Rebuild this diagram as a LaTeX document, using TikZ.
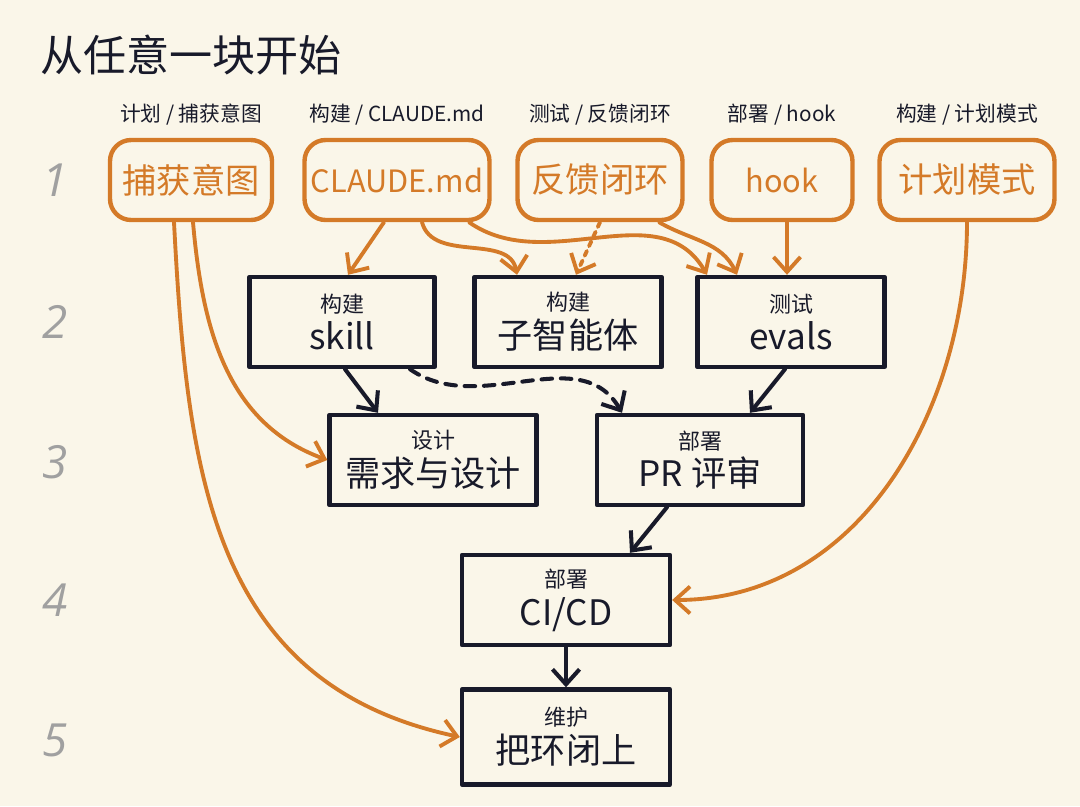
\documentclass[tikz,border=0pt]{standalone}
\usepackage{fontspec}
\setmainfont{Noto Sans CJK SC}
\newfontfamily\numfont{Open Sans}
\usetikzlibrary{positioning,arrows.meta}

\definecolor{ink}{RGB}{24,26,42}
\definecolor{clay}{RGB}{212,122,40}
\definecolor{paper}{RGB}{250,246,233}
\definecolor{pencil}{RGB}{160,160,160}

\begin{document}
\begin{tikzpicture}[x=0.02cm,y=0.02cm,
                    >={Straight Barb[length=3mm,width=5.4mm]},
                    line cap=round,
                    line join=round,
                    start node/.style={draw=clay,text=clay,line width=2.5pt,rounded corners=12pt,
                                       minimum height=1.6cm,inner sep=2pt,
                                       font=\fontsize{19.5}{22}\selectfont},
                    latin/.style={font=\fontsize{17.5}{20}\selectfont},
                    step node/.style={draw=ink,text=ink,line width=2.5pt,inner sep=2pt,
                                      minimum height=1.8cm,align=center,
                                      font=\fontsize{20}{21.5}\selectfont},
                    tag/.style={text=ink,font=\fontsize{11.8}{13}\selectfont},
                    row num/.style={text=pencil,font=\numfont\itshape\fontsize{26}{28}\selectfont},
                    clay arrow/.style={draw=clay,line width=2.2pt,->},
                    ink arrow/.style={draw=ink,line width=2.3pt,->}]

  \useasboundingbox[fill=paper] (0,0) rectangle (1080,-806);

  \node[anchor=west,text=ink,font=\fontsize{24.5}{28}\selectfont] (title) at (34,-55) {从任意一块开始};

  % row numbers
  \node[row num] (r1) at (55,-180) {1};
  \node[row num] (r2) at (55,-322) {2};
  \node[row num] (r3) at (55,-462) {3};
  \node[row num] (r4) at (55,-600) {4};
  \node[row num] (r5) at (55,-740) {5};

  % where you can start
  \node[start node,minimum width=3.24cm]       (cap)    at (191,-180) {捕获意图};
  \node[start node,latin,minimum width=3.7cm]  (claude) at (397,-180) {CLAUDE.md};
  \node[start node,minimum width=3.3cm]        (loopfb) at (600,-180) {反馈闭环};
  \node[start node,latin,minimum width=2.82cm] (hook)   at (782,-180) {hook};
  \node[start node,minimum width=3.5cm]        (plan)   at (967,-180) {计划模式};

  \node[tag,above=0.12cm of cap]    {计划 / 捕获意图};
  \node[tag,above=0.12cm of claude] {构建 / CLAUDE.md};
  \node[tag,above=0.12cm of loopfb] {测试 / 反馈闭环};
  \node[tag,above=0.12cm of hook]   {部署 / hook};
  \node[tag,above=0.12cm of plan]   {构建 / 计划模式};

  % steps
  \node[step node,minimum width=3.7cm]  (skill)  at (342,-322) {{\fontsize{12.5}{14}\selectfont 构建}\\skill};
  \node[step node,minimum width=3.74cm] (sub)    at (568,-322) {{\fontsize{12.5}{14}\selectfont 构建}\\子智能体};
  \node[step node,minimum width=3.74cm] (evals)  at (791,-322) {{\fontsize{12.5}{14}\selectfont 测试}\\evals};
  \node[step node,minimum width=4.14cm] (design) at (433,-460) {{\fontsize{12.5}{14}\selectfont 设计}\\需求与设计};
  \node[step node,minimum width=4.12cm] (pr)     at (700,-460) {{\fontsize{12.5}{14}\selectfont 部署}\\PR 评审};
  \node[step node,minimum width=4.16cm] (cicd)   at (566,-600) {{\fontsize{12.5}{14}\selectfont 部署}\\CI/CD};
  \node[step node,minimum width=4.16cm,minimum height=1.9cm] (close) at (566,-737) {{\fontsize{12.5}{14}\selectfont 维护}\\把环闭上};

  \path[every edge/.style={clay arrow}]
    ([xshift=-0.34cm]cap.south)    edge[out=-87,in=168,looseness=1.1] (close.west)
    ([xshift=0.04cm]cap.south)     edge[out=-85,in=160] (design.west)
    ([xshift=-0.26cm]claude.south) edge ([xshift=0.12cm]skill.north)
    ([xshift=0.5cm]claude.south)   edge[out=-75,in=100] ([xshift=-1.02cm]sub.north)
    ([xshift=1.44cm]claude.south)  edge[out=-35,in=120] ([xshift=-1.68cm]evals.north)
    ([xshift=1.18cm]loopfb.south)  edge[out=-30,in=115] ([xshift=-1.08cm]evals.north)
    ([xshift=0.1cm]hook.south)     edge ([xshift=-0.08cm]evals.north)
    (plan.south)                   edge[out=-90,in=0] (cicd.east);
  \draw[clay arrow,dashed] (loopfb.south) -- ([xshift=0.16cm]sub.north);

  \path[every edge/.style={ink arrow}]
    ([xshift=0.06cm]skill.south)  edge ([xshift=-1.1cm]design.north)
    ([xshift=-0.12cm]evals.south) edge ([xshift=1.0cm]pr.north)
    ([xshift=-0.66cm]pr.south)    edge ([xshift=1.28cm]cicd.north)
    (cicd.south)                  edge (close.north);
  \draw[ink arrow,dashed,dash pattern=on 6pt off 5pt] ([xshift=1.36cm]skill.south)
    to[out=-35,in=120] ([xshift=-1.56cm]pr.north);
\end{tikzpicture}
\end{document}
